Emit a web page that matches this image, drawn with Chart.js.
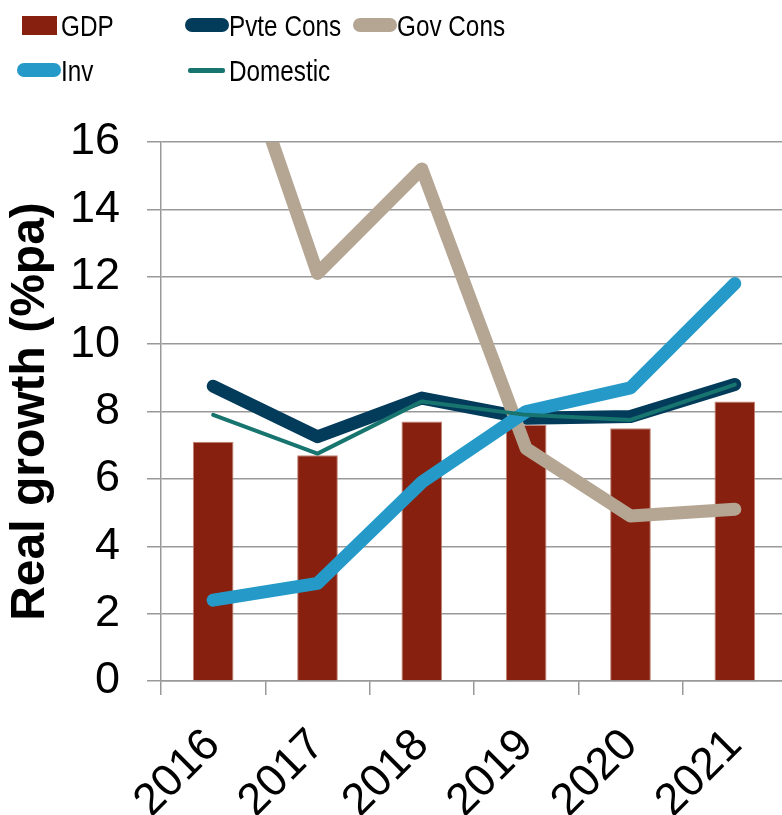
<!DOCTYPE html>
<html>
<head>
<meta charset="utf-8">
<script src="https://cdn.jsdelivr.net/npm/chart.js@4.4.1/dist/chart.umd.min.js"></script>
<style>
  html, body { margin: 0; padding: 0; overflow: hidden; background: #fff; }
  #wrap { position: relative; width: 782px; height: 815px; overflow: hidden; }
  #growth { position: absolute; left: 0; top: 0; }
  #legend {
    position: absolute; left: 17px; top: 3px;
    display: grid; grid-template-columns: 168px 168px auto; grid-auto-rows: 45px;
    font-family: 'Liberation Sans', Arial, sans-serif;
    font-size: 30px; color: #000;
  }
  .item { display: flex; align-items: center; white-space: nowrap; }
  .sw { position: relative; width: 44px; height: 45px; flex: none; }
  .sw span { position: absolute; }
  /* narrow face isn't installed, so squeeze the regular one */
  .txt { display: inline-block; transform: scaleX(0.81); transform-origin: 0 50%; }
</style>
</head>
<body>
<div id="wrap">
  <canvas id="growth" width="797" height="815"></canvas>
  <div id="legend"></div>
</div>
<script>
const years = ['2016', '2017', '2018', '2019', '2020', '2021'];
const gdp = [7.1, 6.7, 7.7, 7.6, 7.5, 8.3];
const pvteCons = [8.75, 7.25, 8.4, 7.8, 7.85, 8.8];
const govCons = [21.1, 12.1, 15.2, 6.9, 4.9, 5.1];
const inv = [2.4, 2.9, 5.9, 8.0, 8.7, 11.8];
const domestic = [7.9, 6.75, 8.3, 7.9, 7.75, 8.8];

const yMin = 0, yMax = 16, yStep = 2;

const tickFont = { family: "'Liberation Sans', Arial, sans-serif", size: 45 };

function lineSet(label, data, color, width, order) {
  return {
    type: 'line', label: label, data: data,
    borderColor: color, backgroundColor: color, borderWidth: width,
    borderCapStyle: 'round', borderJoinStyle: 'round',
    pointRadius: 0, tension: 0, clip: 0, order: order
  };
}

const datasets = [
  { type: 'bar', label: 'GDP', data: gdp, backgroundColor: '#87200E', borderColor: '#c08474',
    borderWidth: 1, barPercentage: 0.39, categoryPercentage: 1, order: 5 },
  lineSet('Pvte Cons', pvteCons, '#033B5A', 13, 4),
  lineSet('Gov Cons', govCons, '#B5A694', 13, 3),
  lineSet('Inv', inv, '#259AC8', 13, 2),
  lineSet('Domestic', domestic, '#17746F', 4, 1)
];

const chart = new Chart(document.getElementById('growth'), {
  data: { labels: years, datasets: datasets },
  options: {
    responsive: false,
    animation: false,
    layout: { padding: { top: 142, left: 0, right: 0, bottom: 0 } },
    plugins: { legend: { display: false }, tooltip: { enabled: false } },
    scales: {
      x: {
        offset: true,
        grid: { offset: true, drawOnChartArea: false, tickLength: 14, color: '#999', lineWidth: 1.5 },
        border: { color: '#999', width: 1.5 },
        ticks: { minRotation: 45, maxRotation: 45, font: tickFont, color: '#000', padding: 24 },
        afterFit(s) { s.height = 134; }
      },
      y: {
        min: yMin, max: yMax,
        ticks: { stepSize: yStep, font: tickFont, color: '#000', padding: 27 },
        grid: { color: '#999', lineWidth: 1.5, tickLength: 14 },
        border: { color: '#999', width: 1.5 },
        title: {
          display: true, text: 'Real growth (%pa)', color: '#000', padding: { top: 2, bottom: 0 },
          font: { family: "'Liberation Sans', Arial, sans-serif", size: 48, weight: 'bold' }
        },
        afterFit(s) { s.width = 161; }
      }
    }
  }
});

// legend in three columns, rows filled left to right
const legend = document.getElementById('legend');
chart.data.datasets.forEach(ds => {
  const item = document.createElement('div');
  item.className = 'item';
  const sw = document.createElement('div');
  sw.className = 'sw';
  const mark = document.createElement('span');
  mark.style.background = ds.type === 'bar' ? ds.backgroundColor : ds.borderColor;
  if (ds.type === 'bar') {
    Object.assign(mark.style, { left: '5px', width: '35px', height: '19px', top: '13px' });
  } else if (ds.borderWidth > 6) {
    Object.assign(mark.style, { left: '0px', width: '44px', height: '14px', top: '15px', borderRadius: '7px' });
  } else {
    Object.assign(mark.style, { left: '3px', width: '37px', height: '5px', top: '20px', borderRadius: '2px' });
  }
  sw.appendChild(mark);
  const txt = document.createElement('span');
  txt.className = 'txt';
  txt.textContent = ds.label;
  item.appendChild(sw);
  item.appendChild(txt);
  legend.appendChild(item);
});
</script>
</body>
</html>
